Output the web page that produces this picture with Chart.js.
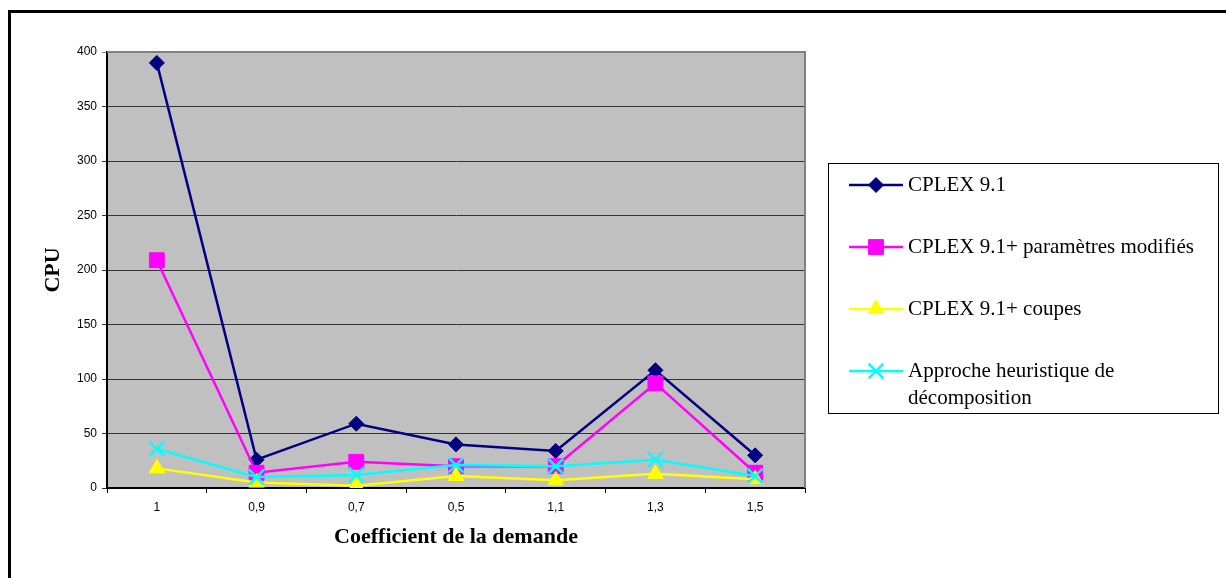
<!DOCTYPE html>
<html>
<head>
<meta charset="utf-8">
<script src="https://cdn.jsdelivr.net/npm/chart.js@4.4.0/dist/chart.umd.min.js"></script>
<style>
  html, body { margin: 0; padding: 0; background: #fff; }
  #wrap { width: 1226px; height: 578px; position: relative; }
</style>
</head>
<body>
<div id="wrap"><canvas id="myChart"></canvas></div>
<script>
    // data
    const categories = ['1', '0,9', '0,7', '0,5', '1,1', '1,3', '1,5'];
    const cplex = [390, 26, 59, 40, 34, 108, 30];
    const cplexParams = [209, 14, 24, 20, 20, 96, 14];
    const cplexCoupes = [18, 5, 2, 11, 7, 13, 8];
    const heuristique = [36, 10, 12, 21, 20, 26, 11];
    const yMin = 0, yMax = 400, yStep = 50;
    const legendLines = [
      ['CPLEX 9.1'],
      ['CPLEX 9.1+ paramètres modifiés'],
      ['CPLEX 9.1+ coupes'],
      ['Approche heuristique de', 'décomposition']
    ];

    const data = {
      labels: categories,
      datasets: [{
        label: 'CPLEX 9.1',
        data: cplex,
        borderColor: '#000080',
        backgroundColor: '#000080',
        borderWidth: 2.5,
        pointStyle: 'rectRot',
        pointRadius: 7.5,
        pointBorderWidth: 1,
        order: 4
      },
      {
        label: 'CPLEX 9.1+ paramètres modifiés',
        data: cplexParams,
        borderColor: '#ff00ff',
        backgroundColor: '#ff00ff',
        borderWidth: 2.5,
        pointStyle: 'rect',
        pointRadius: 10.5,
        pointBorderWidth: 1,
        order: 3
      },
      {
        label: 'CPLEX 9.1+ coupes',
        data: cplexCoupes,
        borderColor: '#ffff00',
        backgroundColor: '#ffff00',
        borderWidth: 2.5,
        pointStyle: 'triangle',
        pointRadius: 9,
        pointBorderWidth: 1,
        order: 2
      },
      {
        label: 'Approche heuristique de décomposition',
        data: heuristique,
        borderColor: '#00ffff',
        backgroundColor: '#00ffff',
        borderWidth: 2.5,
        pointStyle: 'crossRot',
        pointRadius: 10.5,
        pointBorderWidth: 2.5,
        order: 1
      }]
    };

    // fond gris + cadre
    const frame = {
      id: 'frame',
      beforeDraw(chart) {
        const { ctx, chartArea: a } = chart;
        ctx.save();
        ctx.fillStyle = '#fff';
        ctx.fillRect(0, 0, chart.width, chart.height);
        ctx.fillStyle = '#c0c0c0';
        ctx.fillRect(a.left, a.top, a.right - a.left, a.bottom - a.top);
        ctx.strokeStyle = '#000';
        ctx.lineWidth = 3;
        ctx.beginPath();
        ctx.moveTo(9.5, chart.height);
        ctx.lineTo(9.5, 11.5);
        ctx.lineTo(chart.width, 11.5);
        ctx.stroke();
        ctx.restore();
      },
      beforeDatasetsDraw(chart) {
        const { ctx, chartArea: a } = chart;
        ctx.save();
        ctx.strokeStyle = '#808080';
        ctx.lineWidth = 2;
        ctx.beginPath();
        ctx.moveTo(a.left, a.top);
        ctx.lineTo(a.right, a.top);
        ctx.lineTo(a.right, a.bottom);
        ctx.stroke();
        ctx.restore();
      }
    };

    // légende à droite
    const legendBox = {
      id: 'legendBox',
      afterDraw(chart) {
        const ctx = chart.ctx;
        ctx.save();
        ctx.fillStyle = '#fff';
        ctx.fillRect(828, 163, 391, 251);
        ctx.strokeStyle = '#000';
        ctx.lineWidth = 1;
        ctx.strokeRect(828.5, 163.5, 390, 250);
        chart.data.datasets.forEach((ds, i) => {
          const y = 185 + i * 62;
          ctx.strokeStyle = ds.borderColor;
          ctx.fillStyle = ds.backgroundColor;
          ctx.lineWidth = ds.borderWidth;
          ctx.beginPath();
          ctx.moveTo(849, y);
          ctx.lineTo(903, y);
          ctx.stroke();
          ctx.lineWidth = ds.pointBorderWidth;
          Chart.helpers.drawPoint(ctx, {
            pointStyle: ds.pointStyle,
            radius: ds.pointRadius,
            rotation: 0,
            borderWidth: ds.pointBorderWidth
          }, 876, y);
          ctx.fillStyle = '#000';
          ctx.font = '21px "Liberation Serif"';
          ctx.textBaseline = 'middle';
          ctx.textAlign = 'left';
          legendLines[i].forEach((t, j) => ctx.fillText(t, 908, y + j * 27));
        });
        ctx.restore();
      }
    };

    const config = {
      type: 'line',
      data,
      options: {
        responsive: true,
        maintainAspectRatio: false,
        animation: false,
        layout: { padding: { top: 52, right: 421, left: 0, bottom: 0 } },
        plugins: {
          legend: { display: false },
          tooltip: { enabled: false }
        },
        scales: {
          x: {
            offset: true,
            afterFit: s => { s.height = 90; },
            grid: {
              offset: true,
              drawOnChartArea: false,
              tickLength: 5,
              color: '#000'
            },
            border: { color: '#000', width: 2 },
            ticks: {
              color: '#000',
              padding: 7,
              font: { family: 'Liberation Sans', size: 12 }
            },
            title: {
              display: true,
              text: 'Coefficient de la demande',
              color: '#000',
              padding: { top: 0, bottom: 27 },
              font: { family: 'Liberation Serif', size: 22, weight: 'bold' }
            }
          },
          y: {
            min: yMin,
            max: yMax,
            afterFit: s => { s.width = 107; },
            grid: {
              tickLength: 5,
              color: c => (c.tick && c.tick.value === yMax) ? '#808080' : '#333'
            },
            border: { color: '#000', width: 2 },
            ticks: {
              stepSize: yStep,
              color: '#000',
              padding: 5,
              font: { family: 'Liberation Sans', size: 12 }
            },
            title: {
              display: true,
              text: 'CPU',
              color: '#000',
              padding: { top: 40, bottom: 0 },
              font: { family: 'Liberation Serif', size: 22, weight: 'bold' }
            }
          }
        }
      },
      plugins: [frame, legendBox]
    };

    const ctx = document.getElementById('myChart');
    const myChart = new Chart(ctx, config);
</script>
</body>
</html>
